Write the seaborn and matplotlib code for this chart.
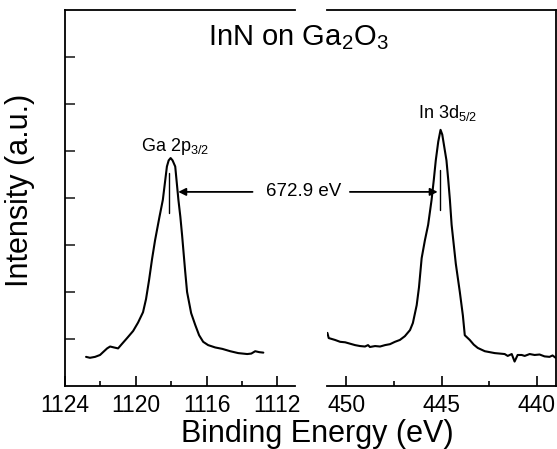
import seaborn as sns
import matplotlib.pyplot as plt
from matplotlib.ticker import MultipleLocator

sns.set_theme(style='ticks')
plt.rcParams['font.family'] = ['Liberation Sans', 'DejaVu Sans']
plt.rcParams['mathtext.fontset'] = 'custom'
plt.rcParams['mathtext.rm'] = 'Liberation Sans'
plt.rcParams['mathtext.it'] = 'Liberation Sans:italic'
plt.rcParams['mathtext.bf'] = 'Liberation Sans:bold'
plt.rcParams['axes.edgecolor'] = 'black'
plt.rcParams['axes.linewidth'] = 1.3
plt.rcParams['text.color'] = 'black'
plt.rcParams['xtick.labelcolor'] = 'black'

# Ga 2p3/2 region (binding energy in eV, intensity in a.u.)
ga_energy = [1122.81, 1122.59, 1122.30, 1122.02, 1121.85, 1121.62, 1121.45, 1121.23,
             1121.00, 1120.77, 1120.49, 1120.15, 1119.87, 1119.59, 1119.42, 1119.25,
             1119.08, 1118.91, 1118.66, 1118.47, 1118.24, 1118.14, 1118.03, 1117.92,
             1117.77, 1117.59, 1117.48, 1117.38, 1117.21, 1117.10, 1116.87, 1116.64,
             1116.42, 1116.19, 1115.91, 1115.51, 1115.11, 1114.66, 1114.21, 1113.70,
             1113.47, 1113.25, 1113.02, 1112.79]
ga_counts = [0.62, 0.60, 0.62, 0.66, 0.72, 0.80, 0.84, 0.82,
             0.80, 0.90, 1.02, 1.17, 1.35, 1.57, 1.85, 2.25,
             2.70, 3.10, 3.60, 3.96, 4.67, 4.80, 4.85, 4.80,
             4.67, 3.96, 3.60, 3.20, 2.45, 2.00, 1.55, 1.30,
             1.08, 0.94, 0.87, 0.82, 0.79, 0.74, 0.70, 0.68,
             0.69, 0.74, 0.72, 0.71]

# In 3d5/2 region
in_energy = [450.98, 450.91, 450.58, 450.31, 450.05, 449.79, 449.53, 449.27, 449.01,
             448.85, 448.75, 448.48, 448.22, 447.96, 447.70, 447.44, 447.18, 446.92,
             446.65, 446.50, 446.30, 446.18, 446.04, 445.87, 445.70, 445.52, 445.40,
             445.30, 445.17, 445.05, 444.96, 444.88, 444.74, 444.65, 444.56, 444.47,
             444.25, 444.04, 443.88, 443.78, 443.52, 443.31, 443.10, 442.73, 442.47,
             442.21, 441.95, 441.69, 441.53, 441.32, 441.17, 441.01, 440.80, 440.64,
             440.38, 440.12, 439.86, 439.60, 439.34, 439.18, 439.02]
in_counts = [1.13, 1.02, 0.98, 0.94, 0.93, 0.90, 0.87, 0.85, 0.84,
             0.87, 0.83, 0.85, 0.84, 0.87, 0.89, 0.94, 0.98, 1.06,
             1.19, 1.34, 1.72, 2.10, 2.72, 3.10, 3.43, 3.96, 4.40,
             4.80, 5.20, 5.45, 5.35, 5.15, 4.80, 4.40, 3.96, 3.43,
             2.60, 2.00, 1.50, 1.08, 0.98, 0.88, 0.81, 0.74, 0.72,
             0.70, 0.69, 0.68, 0.64, 0.68, 0.52, 0.66, 0.66, 0.64,
             0.68, 0.66, 0.67, 0.63, 0.62, 0.65, 0.60]

ga_peak = 1118.0
in_peak = 445.1
splitting_label = '672.9 eV'

fig = plt.figure(figsize=(5.57, 4.49), dpi=100)
ax1 = fig.add_axes([65 / 557, 63 / 449, 230 / 557, 376 / 449])
ax2 = fig.add_axes([327 / 557, 63 / 449, 229 / 557, 376 / 449])

sns.lineplot(x=ga_energy, y=ga_counts, ax=ax1, color='black', lw=1.5,
             sort=False, estimator=None)
sns.lineplot(x=in_energy, y=in_counts, ax=ax2, color='black', lw=1.5,
             sort=False, estimator=None)

for ax in (ax1, ax2):
    ax.set_ylim(0, 8)
    ax.set_xlabel('')
    ax.set_ylabel('')
    ax.tick_params(axis='x', which='both', direction='in', top=False,
                   labelsize=16.5, pad=6, width=1.2, color='black')
    ax.tick_params(axis='x', which='major', length=7)
    ax.tick_params(axis='x', which='minor', length=3.5)

ax1.set_xlim(1124, 1111)
ax1.set_xticks([1124, 1120, 1116, 1112])
ax1.xaxis.set_minor_locator(MultipleLocator(2))
ax1.set_yticks(range(1, 8))
ax1.set_yticklabels([])
ax1.tick_params(axis='y', direction='in', length=7, width=1.2, right=False)
ax1.spines['right'].set_visible(False)

ax2.set_xlim(451, 439)
ax2.set_xticks([450, 445, 440])
ax2.xaxis.set_minor_locator(MultipleLocator(2.5))
ax2.set_yticks([])
ax2.spines['left'].set_visible(False)

# peak markers and splitting arrows
ax1.plot([ga_peak + 0.1, ga_peak + 0.1], [3.68, 4.53], color='black', lw=1)
ax2.plot([in_peak, in_peak], [3.74, 4.6], color='black', lw=1)
arrow = dict(arrowstyle='-|>', color='black', lw=1.3, mutation_scale=11,
             shrinkA=0, shrinkB=0)
ax1.annotate('', xy=(1117.6, 4.13), xytext=(1113.4, 4.13), arrowprops=arrow)
ax2.annotate('', xy=(445.2, 4.13), xytext=(449.8, 4.13), arrowprops=arrow)
fig.text(304 / 557, 1 - 192 / 449, splitting_label, ha='center', va='center',
         fontsize=13.5)

ax1.text(1117.77, 5.1, 'Ga 2p$_{3/2}$', ha='center', va='center', fontsize=13)
ax2.text(444.69, 5.8, 'In 3d$_{5/2}$', ha='center', va='center', fontsize=13)

fig.text(298 / 557, 1 - 45 / 449, 'InN on Ga$_2$O$_3$', ha='center',
         va='baseline', fontsize=21)
fig.text(317 / 557, 1 - 442 / 449, 'Binding Energy (eV)', ha='center',
         va='baseline', fontsize=22)
fig.text(35 / 557, 1 - 190 / 449, 'Intensity (a.u.)', rotation=90,
         ha='right', va='center', fontsize=22)

fig.savefig('out.png', dpi=100)
